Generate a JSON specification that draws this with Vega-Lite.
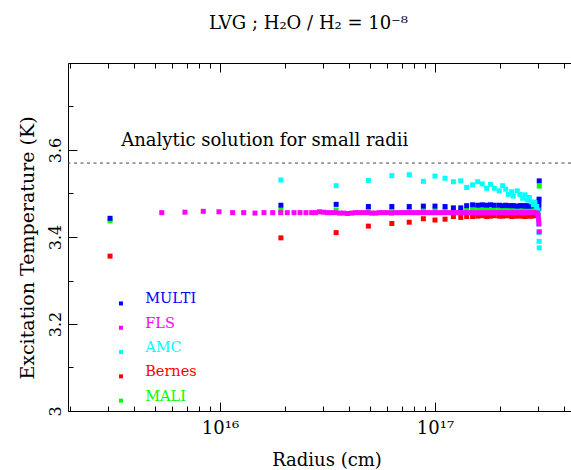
{
  "$schema": "https://vega.github.io/schema/vega-lite/v6.json",
  "width": 503,
  "height": 348,
  "autosize": {"type": "none"},
  "padding": {"left": 68, "top": 63, "right": 0, "bottom": 59},
  "background": "white",
  "title": {"text": "LVG ; H₂O / H₂ = 10⁻⁸", "anchor": "start", "frame": "group", "dx": 141, "offset": 16, "baseline": "alphabetic", "font": "DejaVu Serif", "fontSize": 18, "fontWeight": "normal", "color": "black"},
  "config": {
    "view": {"stroke": null},
    "font": "DejaVu Serif",
    "axis": {"grid": false, "domainColor": "black", "tickColor": "black", "labelColor": "black", "titleColor": "black", "labelFontSize": 16, "titleFontSize": 18, "titleFontWeight": "normal", "labelFlush": false, "labelOverlap": false}
  },
  "data": {"values": [
    {"s": "MALI", "r": 3.08e15, "t": 3.437},
    {"s": "MALI", "r": 1.92e16, "t": 3.462},
    {"s": "MALI", "r": 3.47e16, "t": 3.462},
    {"s": "MALI", "r": 4.90e16, "t": 3.461},
    {"s": "MALI", "r": 6.30e16, "t": 3.461},
    {"s": "MALI", "r": 7.59e16, "t": 3.461},
    {"s": "MALI", "r": 8.83e16, "t": 3.462},
    {"s": "MALI", "r": 1.0e17, "t": 3.462},
    {"s": "MALI", "r": 1.114e17, "t": 3.461},
    {"s": "MALI", "r": 1.218e17, "t": 3.460},
    {"s": "MALI", "r": 1.318e17, "t": 3.460},
    {"s": "MALI", "r": 1.404e17, "t": 3.462},
    {"s": "MALI", "r": 1.496e17, "t": 3.463},
    {"s": "MALI", "r": 1.58e17, "t": 3.462},
    {"s": "MALI", "r": 1.66e17, "t": 3.463},
    {"s": "MALI", "r": 1.739e17, "t": 3.462},
    {"s": "MALI", "r": 1.815e17, "t": 3.462},
    {"s": "MALI", "r": 1.887e17, "t": 3.463},
    {"s": "MALI", "r": 1.991e17, "t": 3.462},
    {"s": "MALI", "r": 2.065e17, "t": 3.462},
    {"s": "MALI", "r": 2.133e17, "t": 3.462},
    {"s": "MALI", "r": 2.193e17, "t": 3.463},
    {"s": "MALI", "r": 2.274e17, "t": 3.462},
    {"s": "MALI", "r": 2.313e17, "t": 3.462},
    {"s": "MALI", "r": 2.414e17, "t": 3.462},
    {"s": "MALI", "r": 2.485e17, "t": 3.461},
    {"s": "MALI", "r": 2.558e17, "t": 3.462},
    {"s": "MALI", "r": 2.624e17, "t": 3.462},
    {"s": "MALI", "r": 2.688e17, "t": 3.461},
    {"s": "MALI", "r": 2.746e17, "t": 3.462},
    {"s": "MALI", "r": 2.806e17, "t": 3.462},
    {"s": "MALI", "r": 2.866e17, "t": 3.461},
    {"s": "MALI", "r": 2.918e17, "t": 3.462},
    {"s": "MALI", "r": 2.972e17, "t": 3.462},
    {"s": "MALI", "r": 3.013e17, "t": 3.463},
    {"s": "MALI", "r": 3.055e17, "t": 3.517},

    {"s": "Bernes", "r": 3.08e15, "t": 3.356},
    {"s": "Bernes", "r": 1.92e16, "t": 3.398},
    {"s": "Bernes", "r": 3.47e16, "t": 3.410},
    {"s": "Bernes", "r": 4.90e16, "t": 3.425},
    {"s": "Bernes", "r": 6.30e16, "t": 3.431},
    {"s": "Bernes", "r": 7.59e16, "t": 3.434},
    {"s": "Bernes", "r": 8.83e16, "t": 3.442},
    {"s": "Bernes", "r": 1.0e17, "t": 3.439},
    {"s": "Bernes", "r": 1.114e17, "t": 3.441},
    {"s": "Bernes", "r": 1.218e17, "t": 3.447},
    {"s": "Bernes", "r": 1.318e17, "t": 3.445},
    {"s": "Bernes", "r": 1.404e17, "t": 3.447},
    {"s": "Bernes", "r": 1.496e17, "t": 3.447},
    {"s": "Bernes", "r": 1.58e17, "t": 3.448},
    {"s": "Bernes", "r": 1.66e17, "t": 3.449},
    {"s": "Bernes", "r": 1.739e17, "t": 3.447},
    {"s": "Bernes", "r": 1.815e17, "t": 3.448},
    {"s": "Bernes", "r": 1.887e17, "t": 3.449},
    {"s": "Bernes", "r": 1.991e17, "t": 3.448},
    {"s": "Bernes", "r": 2.065e17, "t": 3.448},
    {"s": "Bernes", "r": 2.133e17, "t": 3.449},
    {"s": "Bernes", "r": 2.193e17, "t": 3.449},
    {"s": "Bernes", "r": 2.274e17, "t": 3.447},
    {"s": "Bernes", "r": 2.313e17, "t": 3.448},
    {"s": "Bernes", "r": 2.414e17, "t": 3.448},
    {"s": "Bernes", "r": 2.485e17, "t": 3.449},
    {"s": "Bernes", "r": 2.558e17, "t": 3.448},
    {"s": "Bernes", "r": 2.624e17, "t": 3.447},
    {"s": "Bernes", "r": 2.688e17, "t": 3.448},
    {"s": "Bernes", "r": 2.746e17, "t": 3.449},
    {"s": "Bernes", "r": 2.806e17, "t": 3.448},
    {"s": "Bernes", "r": 2.866e17, "t": 3.449},
    {"s": "Bernes", "r": 2.918e17, "t": 3.449},
    {"s": "Bernes", "r": 2.972e17, "t": 3.450},
    {"s": "Bernes", "r": 3.013e17, "t": 3.451},

    {"s": "MULTI", "r": 3.08e15, "t": 3.443},
    {"s": "MULTI", "r": 1.92e16, "t": 3.473},
    {"s": "MULTI", "r": 3.47e16, "t": 3.475},
    {"s": "MULTI", "r": 4.90e16, "t": 3.470},
    {"s": "MULTI", "r": 6.30e16, "t": 3.470},
    {"s": "MULTI", "r": 7.59e16, "t": 3.470},
    {"s": "MULTI", "r": 8.83e16, "t": 3.471},
    {"s": "MULTI", "r": 1.0e17, "t": 3.471},
    {"s": "MULTI", "r": 1.114e17, "t": 3.470},
    {"s": "MULTI", "r": 1.218e17, "t": 3.467},
    {"s": "MULTI", "r": 1.318e17, "t": 3.467},
    {"s": "MULTI", "r": 1.404e17, "t": 3.472},
    {"s": "MULTI", "r": 1.496e17, "t": 3.474},
    {"s": "MULTI", "r": 1.58e17, "t": 3.473},
    {"s": "MULTI", "r": 1.66e17, "t": 3.474},
    {"s": "MULTI", "r": 1.739e17, "t": 3.473},
    {"s": "MULTI", "r": 1.815e17, "t": 3.474},
    {"s": "MULTI", "r": 1.887e17, "t": 3.473},
    {"s": "MULTI", "r": 1.991e17, "t": 3.473},
    {"s": "MULTI", "r": 2.065e17, "t": 3.472},
    {"s": "MULTI", "r": 2.133e17, "t": 3.473},
    {"s": "MULTI", "r": 2.193e17, "t": 3.472},
    {"s": "MULTI", "r": 2.274e17, "t": 3.472},
    {"s": "MULTI", "r": 2.313e17, "t": 3.472},
    {"s": "MULTI", "r": 2.414e17, "t": 3.471},
    {"s": "MULTI", "r": 2.485e17, "t": 3.472},
    {"s": "MULTI", "r": 2.558e17, "t": 3.472},
    {"s": "MULTI", "r": 2.624e17, "t": 3.471},
    {"s": "MULTI", "r": 2.688e17, "t": 3.472},
    {"s": "MULTI", "r": 2.746e17, "t": 3.471},
    {"s": "MULTI", "r": 2.806e17, "t": 3.472},
    {"s": "MULTI", "r": 2.866e17, "t": 3.472},
    {"s": "MULTI", "r": 2.918e17, "t": 3.473},
    {"s": "MULTI", "r": 2.972e17, "t": 3.474},
    {"s": "MULTI", "r": 3.013e17, "t": 3.480},
    {"s": "MULTI", "r": 3.04e17, "t": 3.466},
    {"s": "MULTI", "r": 3.045e17, "t": 3.476},
    {"s": "MULTI", "r": 3.05e17, "t": 3.487},
    {"s": "MULTI", "r": 3.055e17, "t": 3.529},

    {"s": "AMC", "r": 1.92e16, "t": 3.531},
    {"s": "AMC", "r": 3.47e16, "t": 3.518},
    {"s": "AMC", "r": 4.90e16, "t": 3.530},
    {"s": "AMC", "r": 6.30e16, "t": 3.541},
    {"s": "AMC", "r": 7.59e16, "t": 3.543},
    {"s": "AMC", "r": 8.83e16, "t": 3.528},
    {"s": "AMC", "r": 1.0e17, "t": 3.540},
    {"s": "AMC", "r": 1.114e17, "t": 3.535},
    {"s": "AMC", "r": 1.218e17, "t": 3.527},
    {"s": "AMC", "r": 1.318e17, "t": 3.529},
    {"s": "AMC", "r": 1.404e17, "t": 3.514},
    {"s": "AMC", "r": 1.496e17, "t": 3.520},
    {"s": "AMC", "r": 1.58e17, "t": 3.527},
    {"s": "AMC", "r": 1.66e17, "t": 3.522},
    {"s": "AMC", "r": 1.739e17, "t": 3.512},
    {"s": "AMC", "r": 1.815e17, "t": 3.521},
    {"s": "AMC", "r": 1.887e17, "t": 3.512},
    {"s": "AMC", "r": 1.991e17, "t": 3.506},
    {"s": "AMC", "r": 2.065e17, "t": 3.518},
    {"s": "AMC", "r": 2.133e17, "t": 3.510},
    {"s": "AMC", "r": 2.193e17, "t": 3.498},
    {"s": "AMC", "r": 2.274e17, "t": 3.504},
    {"s": "AMC", "r": 2.313e17, "t": 3.494},
    {"s": "AMC", "r": 2.414e17, "t": 3.506},
    {"s": "AMC", "r": 2.485e17, "t": 3.498},
    {"s": "AMC", "r": 2.558e17, "t": 3.489},
    {"s": "AMC", "r": 2.624e17, "t": 3.497},
    {"s": "AMC", "r": 2.688e17, "t": 3.485},
    {"s": "AMC", "r": 2.746e17, "t": 3.491},
    {"s": "AMC", "r": 2.806e17, "t": 3.481},
    {"s": "AMC", "r": 2.866e17, "t": 3.474},
    {"s": "AMC", "r": 2.918e17, "t": 3.479},
    {"s": "AMC", "r": 2.972e17, "t": 3.470},
    {"s": "AMC", "r": 3.013e17, "t": 3.462},
    {"s": "AMC", "r": 3.03e17, "t": 3.450},
    {"s": "AMC", "r": 3.04e17, "t": 3.430},
    {"s": "AMC", "r": 3.045e17, "t": 3.410},
    {"s": "AMC", "r": 3.05e17, "t": 3.390},
    {"s": "AMC", "r": 3.055e17, "t": 3.375},

    {"s": "FLS", "r": 5.36e15, "t": 3.456},
    {"s": "FLS", "r": 6.87e15, "t": 3.457},
    {"s": "FLS", "r": 8.36e15, "t": 3.459},
    {"s": "FLS", "r": 9.89e15, "t": 3.458},
    {"s": "FLS", "r": 1.145e16, "t": 3.456},
    {"s": "FLS", "r": 1.289e16, "t": 3.456},
    {"s": "FLS", "r": 1.455e16, "t": 3.455},
    {"s": "FLS", "r": 1.602e16, "t": 3.456},
    {"s": "FLS", "r": 1.759e16, "t": 3.456},
    {"s": "FLS", "r": 1.915e16, "t": 3.456},
    {"s": "FLS", "r": 2.056e16, "t": 3.456},
    {"s": "FLS", "r": 2.21e16, "t": 3.456},
    {"s": "FLS", "r": 2.355e16, "t": 3.456},
    {"s": "FLS", "r": 2.51e16, "t": 3.456},
    {"s": "FLS", "r": 2.67e16, "t": 3.456},
    {"s": "FLS", "r": 2.78e16, "t": 3.456},
    {"s": "FLS", "r": 2.904e16, "t": 3.458},
    {"s": "FLS", "r": 3.027e16, "t": 3.457},
    {"s": "FLS", "r": 3.162e16, "t": 3.456},
    {"s": "FLS", "r": 3.304e16, "t": 3.456},
    {"s": "FLS", "r": 3.443e16, "t": 3.456},
    {"s": "FLS", "r": 3.597e16, "t": 3.455},
    {"s": "FLS", "r": 3.75e16, "t": 3.455},
    {"s": "FLS", "r": 3.917e16, "t": 3.454},
    {"s": "FLS", "r": 4.093e16, "t": 3.455},
    {"s": "FLS", "r": 4.266e16, "t": 3.456},
    {"s": "FLS", "r": 4.457e16, "t": 3.456},
    {"s": "FLS", "r": 4.645e16, "t": 3.456},
    {"s": "FLS", "r": 4.853e16, "t": 3.456},
    {"s": "FLS", "r": 5.07e16, "t": 3.455},
    {"s": "FLS", "r": 5.284e16, "t": 3.455},
    {"s": "FLS", "r": 5.521e16, "t": 3.456},
    {"s": "FLS", "r": 5.754e16, "t": 3.456},
    {"s": "FLS", "r": 6.012e16, "t": 3.456},
    {"s": "FLS", "r": 6.281e16, "t": 3.455},
    {"s": "FLS", "r": 6.546e16, "t": 3.456},
    {"s": "FLS", "r": 6.839e16, "t": 3.456},
    {"s": "FLS", "r": 7.129e16, "t": 3.456},
    {"s": "FLS", "r": 7.447e16, "t": 3.456},
    {"s": "FLS", "r": 7.78e16, "t": 3.456},
    {"s": "FLS", "r": 8.11e16, "t": 3.456},
    {"s": "FLS", "r": 8.472e16, "t": 3.456},
    {"s": "FLS", "r": 8.851e16, "t": 3.456},
    {"s": "FLS", "r": 9.226e16, "t": 3.456},
    {"s": "FLS", "r": 9.638e16, "t": 3.456},
    {"s": "FLS", "r": 1.005e17, "t": 3.456},
    {"s": "FLS", "r": 1.05e17, "t": 3.456},
    {"s": "FLS", "r": 1.096e17, "t": 3.456},
    {"s": "FLS", "r": 1.143e17, "t": 3.456},
    {"s": "FLS", "r": 1.194e17, "t": 3.456},
    {"s": "FLS", "r": 1.245e17, "t": 3.456},
    {"s": "FLS", "r": 1.3e17, "t": 3.456},
    {"s": "FLS", "r": 1.358e17, "t": 3.456},
    {"s": "FLS", "r": 1.416e17, "t": 3.456},
    {"s": "FLS", "r": 1.479e17, "t": 3.456},
    {"s": "FLS", "r": 1.542e17, "t": 3.456},
    {"s": "FLS", "r": 1.611e17, "t": 3.456},
    {"s": "FLS", "r": 1.683e17, "t": 3.456},
    {"s": "FLS", "r": 1.754e17, "t": 3.456},
    {"s": "FLS", "r": 1.832e17, "t": 3.456},
    {"s": "FLS", "r": 1.91e17, "t": 3.456},
    {"s": "FLS", "r": 1.995e17, "t": 3.456},
    {"s": "FLS", "r": 2.084e17, "t": 3.456},
    {"s": "FLS", "r": 2.173e17, "t": 3.456},
    {"s": "FLS", "r": 2.27e17, "t": 3.456},
    {"s": "FLS", "r": 2.366e17, "t": 3.456},
    {"s": "FLS", "r": 2.472e17, "t": 3.456},
    {"s": "FLS", "r": 2.582e17, "t": 3.456},
    {"s": "FLS", "r": 2.692e17, "t": 3.456},
    {"s": "FLS", "r": 2.812e17, "t": 3.456},
    {"s": "FLS", "r": 2.931e17, "t": 3.456},
    {"s": "FLS", "r": 2.999e17, "t": 3.455},
    {"s": "FLS", "r": 3.02e17, "t": 3.450},
    {"s": "FLS", "r": 3.035e17, "t": 3.440},
    {"s": "FLS", "r": 3.045e17, "t": 3.430},
    {"s": "FLS", "r": 3.055e17, "t": 3.412}
  ]},
  "layer": [
    {
      "data": {"values": [{}]},
      "mark": {"type": "rule", "strokeDash": [3, 3.5], "color": "#444444", "strokeWidth": 1},
      "encoding": {"y": {"datum": 3.57, "type": "quantitative", "axis": null}}
    },
    {
      "mark": {"type": "point", "shape": "square", "filled": true, "size": 25, "opacity": 1, "strokeWidth": 0},
      "encoding": {
        "x": {
          "field": "r", "type": "quantitative",
          "scale": {"type": "log", "domain": [1.963e15, 4.293e17], "nice": false},
          "axis": {
            "orient": "bottom",
            "values": [2e15, 3e15, 4e15, 5e15, 6e15, 7e15, 8e15, 9e15, 1e16, 2e16, 3e16, 4e16, 5e16, 6e16, 7e16, 8e16, 9e16, 1e17, 2e17, 3e17, 4e17],
            "tickSize": {"condition": {"test": "datum.value == 1e16 || datum.value == 1e17", "value": -9}, "value": -5},
            "labelExpr": "datum.value == 1e16 ? '10¹⁶' : (datum.value == 1e17 ? '10¹⁷' : '')",
            "labelFontSize": 18,
            "labelPadding": 17,
            "title": "Radius (cm)",
            "titleX": 258.5,
            "titleY": 54.7,
            "titleBaseline": "alphabetic"
          }
        },
        "y": {
          "field": "t", "type": "quantitative",
          "scale": {"domain": [3, 3.8], "nice": false, "zero": false},
          "axis": {
            "orient": "left",
            "values": [3, 3.1, 3.2, 3.3, 3.4, 3.5, 3.6, 3.7],
            "tickSize": {"condition": {"test": "abs(datum.value*5 - round(datum.value*5)) < 0.01", "value": -9}, "value": -5},
            "labelExpr": "abs(datum.value*5 - round(datum.value*5)) < 0.01 ? format(datum.value, '~g') : ''",
            "labelAngle": -90,
            "labelAlign": "center",
            "labelBaseline": "alphabetic",
            "labelPadding": 17,
            "title": "Excitation Temperature (K)",
            "titleFontSize": 19,
            "titleX": -34.7,
            "titleY": 184.5,
            "titleAngle": -90,
            "titleAlign": "center",
            "titleBaseline": "alphabetic"
          }
        },
        "color": {
          "field": "s", "type": "nominal",
          "scale": {"domain": ["MULTI", "FLS", "AMC", "Bernes", "MALI"], "range": ["#0000ff", "#ff00ff", "#00ffff", "#ff0000", "#00ff00"]},
          "legend": {
            "orient": "none", "legendX": 45.7, "legendY": 233.2, "title": null,
            "symbolType": "square", "symbolSize": 16, "symbolStrokeWidth": 0,
            "labelFontSize": 14.5, "labelFont": "DejaVu Serif", "labelOffset": 17, "rowPadding": 9.3,
            "labelBaseline": "alphabetic",
            "labelColor": {"expr": "scale('color', datum.value)"}
          }
        }
      }
    },
    {
      "data": {"values": [{}]},
      "mark": {"type": "text", "align": "left", "baseline": "alphabetic", "fontSize": 18, "font": "DejaVu Serif", "color": "black"},
      "encoding": {
        "x": {
          "datum": 3.47e15, "type": "quantitative",
          "axis": {
            "orient": "top",
            "values": [2e15, 3e15, 4e15, 5e15, 6e15, 7e15, 8e15, 9e15, 1e16, 2e16, 3e16, 4e16, 5e16, 6e16, 7e16, 8e16, 9e16, 1e17, 2e17, 3e17, 4e17],
            "tickSize": {"condition": {"test": "datum.value == 1e16 || datum.value == 1e17", "value": -9}, "value": -5},
            "labels": false,
            "title": null
          }
        },
        "y": {"datum": 3.609, "type": "quantitative", "axis": null},
        "text": {"value": "Analytic solution for small radii"}
      }
    }
  ],
  "resolve": {"axis": {"x": "independent", "y": "independent"}}
}
